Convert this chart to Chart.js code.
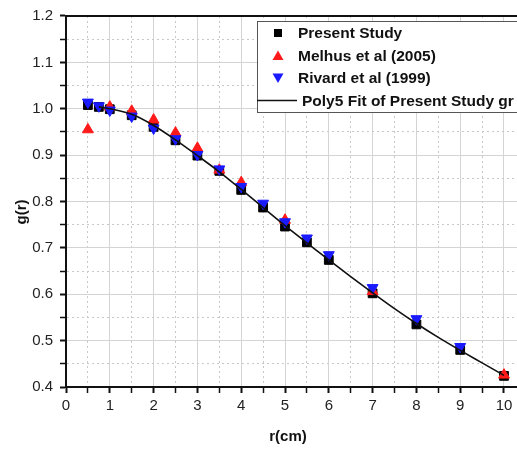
<!DOCTYPE html>
<html>
<head>
<meta charset="utf-8">
<script src="https://cdn.jsdelivr.net/npm/chart.js@4.4.1/dist/chart.umd.min.js"></script>
<style>
  html, body { margin: 0; padding: 0; background: #fff; overflow: hidden; }
  #wrap { position: relative; width: 560px; height: 449px; }
</style>
</head>
<body>
<div id="wrap"><canvas id="gChart"></canvas></div>
<script>
// values
const presentR = [0.5, 0.75, 1, 1.5, 2, 2.5, 3, 3.5, 4, 4.5, 5, 5.5, 6, 7, 8, 9, 10];
const presentG = [1.008, 1.004, 0.999, 0.986, 0.961, 0.932, 0.899, 0.866, 0.825, 0.787, 0.746, 0.712, 0.674, 0.602, 0.535, 0.480, 0.424];

const melhusR = [0.5, 1, 1.5, 2, 2.5, 3, 3.5, 4, 5, 7, 10];
const melhusG = [0.955, 1.004, 0.995, 0.976, 0.948, 0.915, 0.868, 0.841, 0.760, 0.606, 0.426];

const rivardR = [0.5, 0.75, 1, 1.5, 2, 2.5, 3, 3.5, 4, 4.5, 5, 5.5, 6, 7, 8, 9];
const rivardG = [1.014, 1.006, 0.997, 0.984, 0.958, 0.935, 0.901, 0.870, 0.832, 0.796, 0.756, 0.721, 0.685, 0.614, 0.547, 0.487];

const fitR = [0.75, 1, 1.5, 2, 2.5, 3, 3.5, 4, 4.5, 5, 5.5, 6, 6.5, 7, 7.5, 8, 8.5, 9, 9.5, 10];
const fitG = [1.004, 1.0, 0.988, 0.964, 0.933, 0.899, 0.864, 0.826, 0.787, 0.748, 0.711, 0.674, 0.638, 0.603, 0.569, 0.537, 0.507, 0.479, 0.452, 0.425];

const xTicks = [0, 1, 2, 3, 4, 5, 6, 7, 8, 9, 10];
const yTicks = [0.4, 0.5, 0.6, 0.7, 0.8, 0.9, 1.0, 1.1, 1.2];

const xTitle = "r(cm)";
const yTitle = "g(r)";

const FONT = '"Liberation Sans", Arial, sans-serif';
Chart.defaults.font.family = FONT;

const pairs = (xs, ys) => xs.map((x, i) => ({ x: x, y: ys[i] }));
const isMajorX = (v) => Math.abs(v - Math.round(v)) < 1e-6;
const isMajorY = (v) => Math.abs(v * 10 - Math.round(v * 10)) < 1e-6;

// Legend, axis titles and top frame
const decorPlugin = {
  id: "decor",
  afterDraw(chart) {
    const { ctx, chartArea } = chart;
    ctx.save();

    ctx.strokeStyle = "#111";
    ctx.lineWidth = 2;
    ctx.beginPath();
    ctx.moveTo(chartArea.left, chartArea.top);
    ctx.lineTo(chartArea.right + 20, chartArea.top);
    ctx.stroke();

    ctx.fillStyle = "#111";
    ctx.font = "bold 15px " + FONT;
    ctx.textAlign = "center";
    ctx.textBaseline = "middle";
    ctx.fillText(xTitle, 288, 437);
    ctx.save();
    ctx.translate(22, 212);
    ctx.rotate(-Math.PI / 2);
    ctx.fillText(yTitle, 0, 0);
    ctx.restore();

    // legend box
    ctx.fillStyle = "#fff";
    ctx.fillRect(257, 21, 400, 91);
    ctx.strokeStyle = "#555";
    ctx.lineWidth = 1;
    ctx.strokeRect(257.5, 21.5, 400, 91);

    const byLabel = {};
    chart.data.datasets.forEach((d) => { byLabel[d.label] = d; });
    const rows = [
      byLabel["Present Study"],
      byLabel["Melhus et al (2005)"],
      byLabel["Rivard et al (1999)"],
      byLabel["Poly5 Fit of Present Study gr"],
    ];
    ctx.font = "bold 15.5px " + FONT;
    ctx.textAlign = "left";
    rows.forEach((d, i) => {
      const y = 33 + i * 22.5;
      const mx = 278;
      ctx.fillStyle = d.backgroundColor;
      ctx.beginPath();
      if (d.pointStyle === "rect") {
        ctx.rect(mx - 4, y - 4, 8, 8);
      } else if (d.pointStyle === "triangle" && d.pointRotation === 180) {
        ctx.moveTo(mx - 5.5, y - 4.5);
        ctx.lineTo(mx + 5.5, y - 4.5);
        ctx.lineTo(mx, y + 5);
        ctx.closePath();
      } else if (d.pointStyle === "triangle") {
        ctx.moveTo(mx - 5.5, y + 4.5);
        ctx.lineTo(mx + 5.5, y + 4.5);
        ctx.lineTo(mx, y - 5);
        ctx.closePath();
      }
      ctx.fill();
      if (d.pointStyle === false) {
        ctx.strokeStyle = d.borderColor;
        ctx.lineWidth = 1.5;
        ctx.beginPath();
        ctx.moveTo(257, y);
        ctx.lineTo(297, y);
        ctx.stroke();
      }
      ctx.fillStyle = "#111";
      ctx.fillText(d.label, d.pointStyle === false ? 302 : 298, y + 1);
    });

    ctx.restore();
  },
};

const ctx = document.getElementById("gChart").getContext("2d");
new Chart(ctx, {
  type: "scatter",
  data: {
    datasets: [
      {
        label: "Poly5 Fit of Present Study gr",
        type: "line",
        data: pairs(fitR, fitG),
        borderColor: "#111",
        backgroundColor: "#111",
        borderWidth: 1.6,
        pointRadius: 0,
        pointStyle: false,
        cubicInterpolationMode: "monotone",
        fill: false,
        order: 0,
      },
      {
        label: "Rivard et al (1999)",
        data: pairs(rivardR, rivardG),
        pointStyle: "triangle",
        pointRotation: 180,
        pointRadius: 6.3,
        backgroundColor: "#1a1aff",
        borderColor: "#1a1aff",
        borderWidth: 1,
        order: 1,
      },
      {
        label: "Melhus et al (2005)",
        data: pairs(melhusR, melhusG),
        pointStyle: "triangle",
        pointRadius: 6.3,
        backgroundColor: "#ff1a1a",
        borderColor: "#ff1a1a",
        borderWidth: 1,
        order: 2,
      },
      {
        label: "Present Study",
        data: pairs(presentR, presentG),
        pointStyle: "rect",
        pointRadius: 6.2,
        backgroundColor: "#000",
        borderColor: "#000",
        borderWidth: 1,
        order: 3,
      },
    ],
  },
  options: {
    responsive: true,
    maintainAspectRatio: false,
    animation: false,
    layout: {
      padding: { top: 16, right: 12.2, bottom: 0, left: 0 },
    },
    plugins: {
      legend: { display: false },
      tooltip: { enabled: false },
    },
    scales: {
      x: {
        type: "linear",
        min: 0,
        max: 11,
        afterFit: (scale) => { scale.height = 62; },
        afterBuildTicks: (scale) => {
          scale.ticks = [];
          for (let i = 0; i <= 22; i++) scale.ticks.push({ value: i / 2 });
        },
        ticks: {
          autoSkip: false,
          maxRotation: 0,
          padding: 4,
          color: "#222",
          font: { size: 15 },
          callback: (v) => (xTicks.includes(v) ? String(v) : ""),
        },
        grid: {
          color: (c) => (c.tick && isMajorX(c.tick.value) ? "#d4d4d4" : "#c8c8c8"),
          lineWidth: 1,
          tickLength: 6,
          tickColor: "#111",
          tickWidth: (c) => (c.tick && isMajorX(c.tick.value) ? 2 : 1.5),
        },
        border: {
          display: true,
          color: "#111",
          width: 2,
          dash: (c) => (c.tick && !isMajorX(c.tick.value) ? [2, 3] : []),
        },
      },
      y: {
        min: 0.4,
        max: 1.2,
        afterFit: (scale) => { scale.width = 66; },
        afterBuildTicks: (scale) => {
          scale.ticks = [];
          for (let i = 0; i <= 16; i++) scale.ticks.push({ value: 0.4 + i * 0.05 });
        },
        ticks: {
          autoSkip: false,
          padding: 7,
          color: "#222",
          font: { size: 15 },
          callback: (v) => {
            const hit = yTicks.find((t) => Math.abs(t - v) < 1e-6);
            return hit !== undefined ? hit.toFixed(1) : "";
          },
        },
        grid: {
          color: (c) => (c.tick && isMajorY(c.tick.value) ? "#d4d4d4" : "#c8c8c8"),
          lineWidth: 1,
          tickLength: 6,
          tickColor: "#111",
          tickWidth: (c) => (c.tick && isMajorY(c.tick.value) ? 2 : 1.5),
        },
        border: {
          display: true,
          color: "#111",
          width: 2,
          dash: (c) => (c.tick && !isMajorY(c.tick.value) ? [2, 3] : []),
        },
      },
    },
  },
  plugins: [decorPlugin],
});
</script>
</body>
</html>
